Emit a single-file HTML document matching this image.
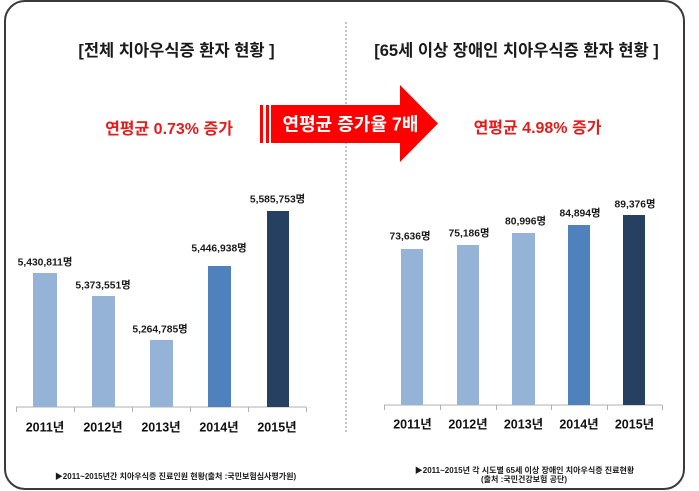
<!DOCTYPE html>
<html>
<head>
<meta charset="utf-8">
<style>
  html, body { margin: 0; padding: 0; background: #ffffff; }
  body { width: 699px; height: 491px; overflow: hidden; }
  svg { display: block; }
  text { font-family: "Liberation Sans", "Noto Sans CJK KR", "NanumGothic", sans-serif; font-weight: bold; }
</style>
</head>
<body>
<svg width="699" height="491" viewBox="0 0 699 491" xmlns="http://www.w3.org/2000/svg">
  <rect x="0" y="0" width="699" height="491" fill="#ffffff"/>
  <!-- outer rounded frame -->
  <rect x="5" y="1" width="679" height="488" rx="20" ry="20" fill="#ffffff" stroke="#3a3a3a" stroke-width="2"/>

  <!-- dashed divider -->
  <line x1="346" y1="22" x2="346" y2="433" stroke="#8a8a8a" stroke-width="1" stroke-dasharray="2,2"/>

  <!-- titles -->
  <text x="176.5" y="56" font-size="16.5" text-anchor="middle" fill="#1a1a1a">[전체 치아우식증 환자 현황 ]</text>
  <text x="516.5" y="56" font-size="16.5" text-anchor="middle" fill="#1a1a1a">[65세 이상 장애인 치아우식증 환자 현황 ]</text>

  <!-- red annotations -->
  <text x="169" y="134" font-size="16" text-anchor="middle" fill="#e31c1c">연평균 0.73% 증가</text>
  <text x="537.5" y="133" font-size="16" text-anchor="middle" fill="#e31c1c">연평균 4.98% 증가</text>

  <!-- arrow -->
  <rect x="260" y="105" width="3" height="38" fill="#ff0000"/>
  <rect x="266" y="105" width="3" height="38" fill="#ff0000"/>
  <polygon points="271,105 400,105 400,85 438,123.5 400,162 400,143 271,143" fill="#ff0000"/>
  <text x="350.5" y="130.5" font-size="18" text-anchor="middle" fill="#ffffff">연평균 증가율 7배</text>

  <!-- LEFT CHART -->
  <line x1="16" y1="407" x2="306" y2="407" stroke="#b0b0b0" stroke-width="1"/>
  <g stroke="#b0b0b0" stroke-width="1">
    <line x1="16.5" y1="407" x2="16.5" y2="412"/>
    <line x1="74.5" y1="407" x2="74.5" y2="412"/>
    <line x1="132.5" y1="407" x2="132.5" y2="412"/>
    <line x1="190.5" y1="407" x2="190.5" y2="412"/>
    <line x1="248.5" y1="407" x2="248.5" y2="412"/>
    <line x1="306.5" y1="407" x2="306.5" y2="412"/>
  </g>
  <rect x="33" y="273" width="24" height="134" fill="#95b3d7"/>
  <rect x="92" y="296" width="23" height="111" fill="#95b3d7"/>
  <rect x="150" y="340" width="23" height="67" fill="#95b3d7"/>
  <rect x="208" y="266" width="23" height="141" fill="#4f81bd"/>
  <rect x="267" y="211" width="22" height="196" fill="#254061"/>

  <g font-size="10.3" text-anchor="middle" fill="#1a1a1a">
    <text x="45" y="265.5">5,430,811명</text>
    <text x="103" y="288.5">5,373,551명</text>
    <text x="160" y="332.5">5,264,785명</text>
    <text x="219" y="251.5">5,446,938명</text>
    <text x="277.5" y="202.5">5,585,753명</text>
  </g>
  <g font-size="12.5" text-anchor="middle" fill="#111111">
    <text x="45" y="431.5">2011년</text>
    <text x="103" y="431.5">2012년</text>
    <text x="161" y="431.5">2013년</text>
    <text x="219" y="431.5">2014년</text>
    <text x="277" y="431.5">2015년</text>
  </g>

  <!-- RIGHT CHART -->
  <line x1="384" y1="405" x2="662" y2="405" stroke="#b0b0b0" stroke-width="1"/>
  <g stroke="#b0b0b0" stroke-width="1">
    <line x1="384.5" y1="405" x2="384.5" y2="410"/>
    <line x1="440.5" y1="405" x2="440.5" y2="410"/>
    <line x1="496.5" y1="405" x2="496.5" y2="410"/>
    <line x1="551.5" y1="405" x2="551.5" y2="410"/>
    <line x1="607.5" y1="405" x2="607.5" y2="410"/>
    <line x1="662.5" y1="405" x2="662.5" y2="410"/>
  </g>
  <rect x="401" y="249" width="22" height="156" fill="#95b3d7"/>
  <rect x="457" y="245" width="22" height="160" fill="#95b3d7"/>
  <rect x="512" y="233" width="23" height="172" fill="#95b3d7"/>
  <rect x="568" y="225" width="22" height="180" fill="#4f81bd"/>
  <rect x="623" y="215" width="22" height="190" fill="#254061"/>

  <g font-size="10.3" text-anchor="middle" fill="#1a1a1a">
    <text x="410" y="239.5">73,636명</text>
    <text x="469" y="236.5">75,186명</text>
    <text x="525.5" y="224.5">80,996명</text>
    <text x="580" y="216.5">84,894명</text>
    <text x="635" y="207.5">89,376명</text>
  </g>
  <g font-size="12.5" text-anchor="middle" fill="#111111">
    <text x="412.5" y="428.5">2011년</text>
    <text x="468" y="428.5">2012년</text>
    <text x="523.5" y="428.5">2013년</text>
    <text x="579" y="428.5">2014년</text>
    <text x="634.5" y="428.5">2015년</text>
  </g>

  <!-- footers -->
  <text x="175.5" y="479" font-size="8" text-anchor="middle" fill="#1a1a1a">▶2011~2015년간 치아우식증 진료인원 현황(출처 :국민보험심사평가원)</text>
  <text x="524.5" y="473" font-size="8" text-anchor="middle" fill="#1a1a1a">▶2011~2015년 각 시도별 65세 이상 장애인 치아우식증 진료현황</text>
  <text x="524" y="482" font-size="8" text-anchor="middle" fill="#1a1a1a">(출처 :국민건강보험 공단)</text>
</svg>
</body>
</html>
